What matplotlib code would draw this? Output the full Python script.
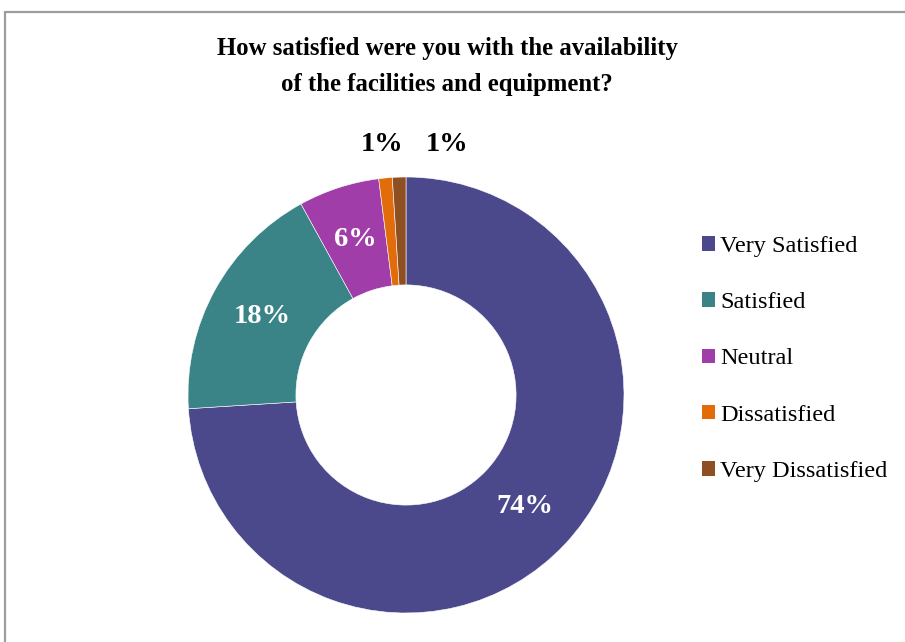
import matplotlib.pyplot as plt
from matplotlib.patches import Patch, Rectangle

# survey answers
categories = ["Very Satisfied", "Satisfied", "Neutral", "Dissatisfied", "Very Dissatisfied"]
shares = [74, 18, 6, 1, 1]
colors = ["#4B498C", "#3A8386", "#A03DA9", "#E36C0A", "#8E4F22"]

title = "How satisfied were you with the availability\nof the facilities and equipment?"

plt.rcParams["font.family"] = ["Liberation Serif", "DejaVu Serif"]

W, H = 905, 642
fig = plt.figure(figsize=(W / 100, H / 100), dpi=100)

# grey frame round the chart area
fig.patches.append(Rectangle((5 / W, -0.1), 1.2, 1 - 12 / H + 0.1,
                             transform=fig.transFigure, fill=False,
                             edgecolor="#9C9C9C", linewidth=1.6))

# donut, centre (406, 395) px, outer radius 218 px
cx, cy, r = 406, 395, 218
ax = fig.add_axes([(cx - r) / W, (H - cy - r) / H, 2 * r / W, 2 * r / H])

wedges, texts, autotexts = ax.pie(
    shares, colors=colors, startangle=90, counterclock=False,
    radius=1.0, wedgeprops=dict(width=0.495, edgecolor="#ffffff", linewidth=0.4),
    autopct="%d%%", pctdistance=0.75,
    textprops=dict(fontsize=20.5, fontweight="bold", color="white"))
ax.set_xlim(-1, 1)
ax.set_ylim(-1, 1)
ax.set_aspect("equal")
ax.axis("off")

# the two thin slices get their labels above the ring
for t, x in zip(autotexts[3:], [-0.11, 0.19]):
    t.set_position((x, 1.147))
    t.set_color("black")

fig.text(447 / W, 1 - 66.5 / H, title, ha="center", va="center",
         fontsize=17.8, fontweight="bold", linespacing=1.68)

handles = [Patch(facecolor=c, edgecolor="none") for c in colors]
fig.legend(handles, categories, loc="center left",
           bbox_to_anchor=(692 / W, 1 - 359 / H), frameon=False,
           fontsize=17.5, handlelength=0.55, handleheight=0.55,
           handletextpad=0.2, labelspacing=1.45, borderaxespad=0)

fig.savefig("out.png", dpi=100)
